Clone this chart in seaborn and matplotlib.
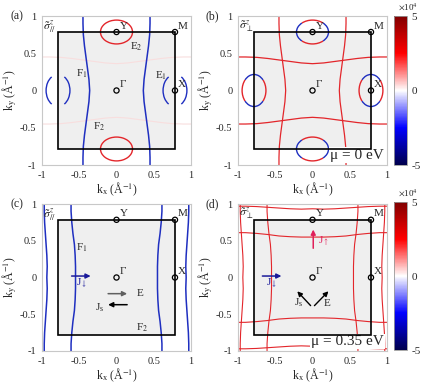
import numpy as np
import pandas as pd
import matplotlib
matplotlib.use('Agg')
import matplotlib.pyplot as plt
from matplotlib.patches import Arc, Rectangle
import seaborn as sns

sns.set_style('white')
plt.rcParams['font.family'] = ['Liberation Serif', 'DejaVu Serif']
plt.rcParams['mathtext.fontset'] = 'stix'

# Brillouin zone edge and high symmetry points
bz = 0.785
sym_names = ['Γ', 'X', 'Y', 'M']
sym_kx = [0, bz, 0, bz]
sym_ky = [0, 0, bz, bz]

# Fermi surface at mu = 0: wavy sheet k(ky)
ky_pts = [-1, -0.9, -0.75, -0.6, -0.45, -0.3, -0.15, 0, 0.15, 0.3, 0.45, 0.6, 0.75, 0.9, 1]
fs0_k = [0.45, 0.45, 0.445, 0.43, 0.41, 0.39, 0.37, 0.36, 0.37, 0.39, 0.41, 0.43, 0.445, 0.45, 0.45]
# Fermi surface at mu = 0.35 eV: inner and outer sheets
fs1_k = [0.61, 0.61, 0.6, 0.585, 0.565, 0.555, 0.55, 0.55, 0.55, 0.555, 0.565, 0.585, 0.6, 0.61, 0.61]
fs2_k = [0.97, 0.97, 0.965, 0.955, 0.945, 0.935, 0.93, 0.935, 0.93, 0.935, 0.945, 0.955, 0.965, 0.97, 0.97]

# electron pockets at X and Y (center, full width, full height)
pocket_y = [(0, bz), (0, -bz)]
pocket_x = [(bz, 0), (-bz, 0)]
pocket_w, pocket_h = 0.43, 0.32

red = '#e3262b'
blue = '#1f2fc0'
faint = '#f8dede'

fig = plt.figure(figsize=(4.25, 3.88), dpi=100)
W, H = 425, 388

def px_axes(x0, y0, x1, y1):
    return fig.add_axes([x0 / W, 1 - y1 / H, (x1 - x0) / W, (y1 - y0) / H])

ax_a = px_axes(42, 16, 191, 165)
ax_b = px_axes(238, 16, 387, 165)
ax_c = px_axes(42, 204, 191, 351)
ax_d = px_axes(238, 204, 387, 351)
cax_b = px_axes(394, 16, 407, 165)
cax_d = px_axes(394, 202, 407, 350)


def sheet(ax, ks, color, lw=1.1, horizontal=False):
    for s in (1, -1):
        xs = [s * k for k in ks]
        if horizontal:
            df = pd.DataFrame({'x': ky_pts, 'y': xs})
        else:
            df = pd.DataFrame({'x': xs, 'y': ky_pts})
        sns.lineplot(data=df, x='x', y='y', sort=False, estimator=None,
                     color=color, lw=lw, ax=ax, zorder=2)


def pocket(ax, center, w, h, segs, lw=1.0):
    for t1, t2, c in segs:
        ax.add_patch(Arc(center, w, h, theta1=t1, theta2=t2, color=c, lw=lw, zorder=2))


def base(ax, label, sigma):
    ax.set_xlim(-1, 1)
    ax.set_ylim(-1, 1)
    ax.add_patch(Rectangle((-bz, -bz), 2 * bz, 2 * bz, facecolor='#efefef',
                           edgecolor='none', zorder=1))
    ax.add_patch(Rectangle((-bz, -bz), 2 * bz, 2 * bz, facecolor='none',
                           edgecolor='black', lw=1.2, zorder=3))
    sns.scatterplot(x=sym_kx, y=sym_ky, ax=ax, s=14, facecolor='none',
                    edgecolor='black', linewidth=0.9, zorder=4)
    for n, x, y in zip(sym_names, sym_kx, sym_ky):
        ax.text(x + 0.04, y + 0.02, n, fontsize=8, ha='left', va='bottom', zorder=5)
    ax.set_xticks([-1, -0.5, 0, 0.5, 1])
    ax.set_xticklabels(['-1', '-0.5', '0', '0.5', '1'])
    ax.set_yticks([-1, -0.5, 0, 0.5, 1])
    ax.set_yticklabels(['-1', '-0.5', '0', '0.5', '1'])
    ax.tick_params(length=0, labelsize=7.5, pad=4)
    ax.set_xlabel(r'k$_\mathregular{x}$ (Å$^{-1}$)', fontsize=8.5, labelpad=1)
    ax.set_ylabel(r'k$_\mathregular{y}$ (Å$^{-1}$)', fontsize=8.5, labelpad=1)
    for sp in ax.spines.values():
        sp.set_color('#c8c8c8')
        sp.set_linewidth(0.8)
    ax.text(-0.98, 0.97, sigma, fontsize=8.5, ha='left', va='top', zorder=5)
    ax.text(-1.25, 1.0, label, fontsize=8.5, ha='right', va='center',
            transform=ax.transData, clip_on=False)


# (a)
base(ax_a, '(a)', r'$\tilde{\sigma}^{z}_{//}$')
sheet(ax_a, fs0_k, faint, lw=0.8, horizontal=True)
sheet(ax_a, fs0_k, blue)
for c in pocket_y:
    pocket(ax_a, c, pocket_w, pocket_h, [(0, 360, red)])
for c in pocket_x:
    pocket(ax_a, c, pocket_h, pocket_w, [(115, 245, blue), (-65, 65, blue)])
ax_a.text(-0.47, 0.23, r'F$_1$', fontsize=8, ha='center', va='center')
ax_a.text(0.6, 0.2, r'E$_1$', fontsize=8, ha='center', va='center')
ax_a.text(0.27, 0.59, r'E$_2$', fontsize=8, ha='center', va='center')
ax_a.text(-0.24, -0.49, r'F$_2$', fontsize=8, ha='center', va='center')

# (b)
base(ax_b, '(b)', r'$\tilde{\sigma}^{z}_{\perp}$')
sheet(ax_b, fs0_k, red, lw=0.9)
sheet(ax_b, fs0_k, red, lw=0.9, horizontal=True)
for c in pocket_y:
    pocket(ax_b, c, pocket_w, pocket_h,
           [(40, 140, red), (140, 220, blue), (220, 320, red), (-40, 40, blue)])
for c in pocket_x:
    pocket(ax_b, c, pocket_h, pocket_w,
           [(-50, 50, red), (50, 130, blue), (130, 230, red), (230, 310, blue)])
ax_b.text(0.96, -0.87, 'μ = 0 eV', fontsize=11, ha='right', va='center',
          zorder=2.5, bbox=dict(facecolor='white', edgecolor='none', pad=1))

# (c)
base(ax_c, '(c)', r'$\tilde{\sigma}^{z}_{//}$')
sheet(ax_c, fs1_k, blue)
sheet(ax_c, fs2_k, blue)
ax_c.annotate('', xy=(-0.31, 0.02), xytext=(-0.64, 0.02),
              arrowprops=dict(arrowstyle='-|>', color='#1a1a9a', lw=1.1, mutation_scale=7))
ax_c.text(-0.47, -0.08, r'J$_\downarrow$', color='#1a1a9a', fontsize=8, ha='center', va='center')
ax_c.annotate('', xy=(0.18, -0.22), xytext=(-0.15, -0.22),
              arrowprops=dict(arrowstyle='-|>', color='#606060', lw=1.1, mutation_scale=7))
ax_c.text(0.27, -0.22, 'E', fontsize=8, ha='left', va='center')
ax_c.annotate('', xy=(-0.15, -0.37), xytext=(0.18, -0.37),
              arrowprops=dict(arrowstyle='-|>', color='black', lw=1.1, mutation_scale=7))
ax_c.text(-0.22, -0.41, r'J$_\mathregular{s}$', fontsize=8, ha='center', va='center')
ax_c.text(-0.47, 0.4, r'F$_1$', fontsize=8, ha='center', va='center')
ax_c.text(0.34, -0.69, r'F$_2$', fontsize=8, ha='center', va='center')

# (d)
base(ax_d, '(d)', r'$\tilde{\sigma}^{z}_{\perp}$')
for ks in (fs1_k, fs2_k):
    sheet(ax_d, ks, red, lw=0.8)
    sheet(ax_d, ks, red, lw=0.8, horizontal=True)
ax_d.annotate('', xy=(0.01, 0.69), xytext=(0.01, 0.36),
              arrowprops=dict(arrowstyle='-|>', color='#e0205a', lw=1.1, mutation_scale=7))
ax_d.text(0.08, 0.49, r'J$_\uparrow$', color='#e0205a', fontsize=8, ha='left', va='center')
ax_d.annotate('', xy=(-0.38, 0.02), xytext=(-0.71, 0.02),
              arrowprops=dict(arrowstyle='-|>', color='#1a1a9a', lw=1.1, mutation_scale=7))
ax_d.text(-0.55, -0.08, r'J$_\downarrow$', color='#1a1a9a', fontsize=8, ha='center', va='center')
ax_d.annotate('', xy=(-0.23, -0.16), xytext=(0, -0.41),
              arrowprops=dict(arrowstyle='-|>', color='black', lw=1.0, mutation_scale=7))
ax_d.annotate('', xy=(0.24, -0.16), xytext=(0, -0.41),
              arrowprops=dict(arrowstyle='-|>', color='black', lw=1.0, mutation_scale=7))
ax_d.text(-0.18, -0.34, r'J$_\mathregular{s}$', fontsize=8, ha='center', va='center')
ax_d.text(0.19, -0.35, 'E', fontsize=8, ha='center', va='center')
ax_d.text(0.96, -0.87, 'μ = 0.35 eV', fontsize=11, ha='right', va='center',
          zorder=2.5, bbox=dict(facecolor='white', edgecolor='none', pad=1))

# colorbars
sm = matplotlib.cm.ScalarMappable(cmap='seismic', norm=matplotlib.colors.Normalize(-5, 5))
for cax in (cax_b, cax_d):
    cb = fig.colorbar(sm, cax=cax, ticks=[-5, 0, 5])
    cb.ax.set_yticklabels(['-5', '0', '5'])
    cb.ax.tick_params(length=0, labelsize=8, pad=3)
    cb.outline.set_linewidth(0.6)
    cb.outline.set_edgecolor('#999999')
    cax.text(0.3, 1.03, r'$\times$10$^4$', transform=cax.transAxes, fontsize=6.5,
             ha='left', va='bottom')

fig.savefig('out.png', dpi=100)
